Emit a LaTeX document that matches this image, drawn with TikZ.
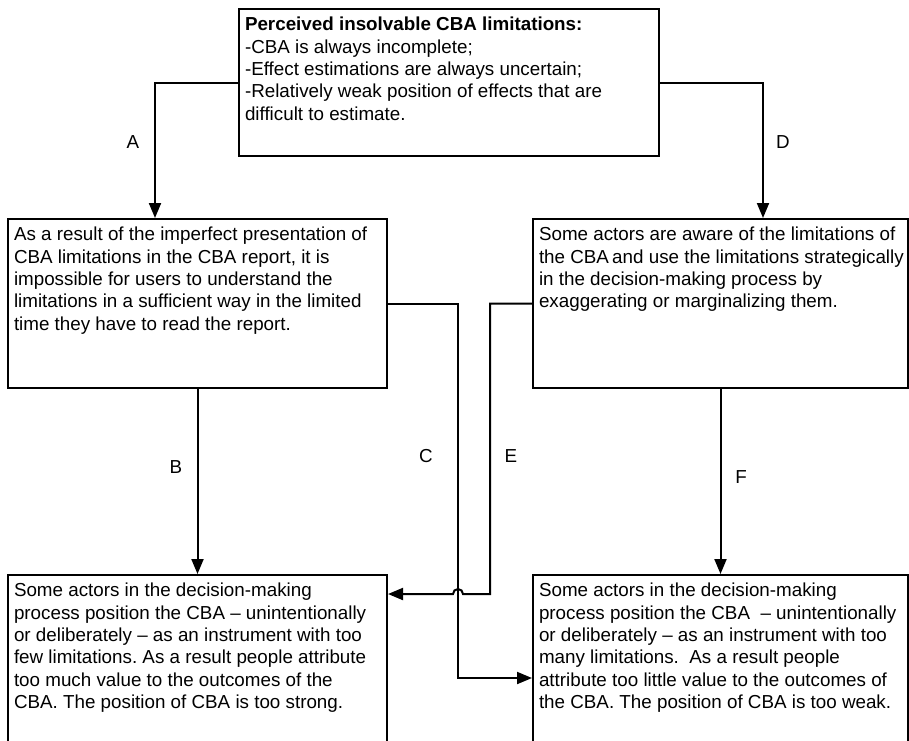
\documentclass[tikz,border=0pt]{standalone}
\usepackage{fontspec}
\setmainfont{Liberation Sans}
\usetikzlibrary{arrows.meta}
\frenchspacing
\newcommand{\bxt}[3]{\parbox[t][#2][t]{#1}{\raggedright\frenchspacing\strut #3}}
\tikzset{
  bx/.style={draw, line width=2pt, anchor=north west, inner xsep=6pt, inner ysep=6pt,
    font=\fontsize{18.8}{22.4}\selectfont},
  conn/.style={line width=2pt, -{Triangle[length=15pt,width=12pt]}},
  lbl/.style={font=\fontsize{18.8}{22.4}\selectfont, inner sep=0pt}
}
\begin{document}
\begin{tikzpicture}[x=1pt,y=-1pt]
\clip (0,0) rectangle (909,740);
\fill[white] (0,0) rectangle (909,740);

\node[bx] (top) at (238,8) {\bxt{408pt}{135pt}{\textbf{Perceived insolvable CBA limitations:}\\
-CBA is always incomplete;\\
-Effect estimations are always uncertain;\\
-Relatively weak position of effects that are\\
difficult to estimate.}};

\node[bx] (lmid) at (7,218) {\bxt{367pt}{157pt}{As a result of the imperfect presentation of\\
\mbox{CBA limitations in the CBA report, it is}\\
impossible for users to understand the\\
limitations in a sufficient way in the limited\\
time they have to read the report.}};

\node[bx] (rmid) at (532,218) {\bxt{363pt}{157pt}{Some actors are aware of the limitations of\\
\mbox{the CBA\hspace{-2pt} and use the limitations strategically}\\
in the decision-making process by\\
exaggerating or marginalizing them.}};

\node[bx] (lbot) at (7,574) {\bxt{367pt}{200pt}{Some actors in the decision-making\\
process position the CBA – unintentionally\\
or deliberately – as an instrument with too\\
few limitations. As a result people attribute\\
too much value to the outcomes of the\\
CBA. The position of CBA is too strong.}};

\node[bx] (rbot) at (532,574) {\bxt{363pt}{200pt}{Some actors in the decision-making\\
process position the CBA\ \ – unintentionally\\
or deliberately – as an instrument with too\\
many limitations.\ \ As a result people\\
attribute too little value to the outcomes of\\
the CBA. The position of CBA is too weak.}};

\coordinate (c2) at (458,678);
\coordinate (e2) at (490,594);
\coordinate (hop) at (458,594);

\draw[conn] (top.west) -| ([xshift=-42.5pt]lmid.north);
\draw[conn] (top.east) -| ([xshift=42.5pt]rmid.north);
\draw[conn] (lmid.south) -- (lbot.north);
\draw[conn] (rmid.south) -- (rbot.north);
\draw[conn] (lmid.east) -| (c2) -- (c2 -| rbot.west);
\draw[conn] (rmid.west) -| (e2) -- ([xshift=5pt]hop) arc[start angle=0,end angle=180,radius=5pt] -- (e2 -| lbot.east);

\node[lbl] (la) at (133,142) {A};
\node[lbl] (ld) at (783,142) {D};
\node[lbl] (lb) at (176,467) {B};
\node[lbl] (lf) at (741,477) {F};
\node[lbl] (lc) at (426,456) {C};
\node[lbl] (le) at (511,456) {E};
\end{tikzpicture}
\end{document}
